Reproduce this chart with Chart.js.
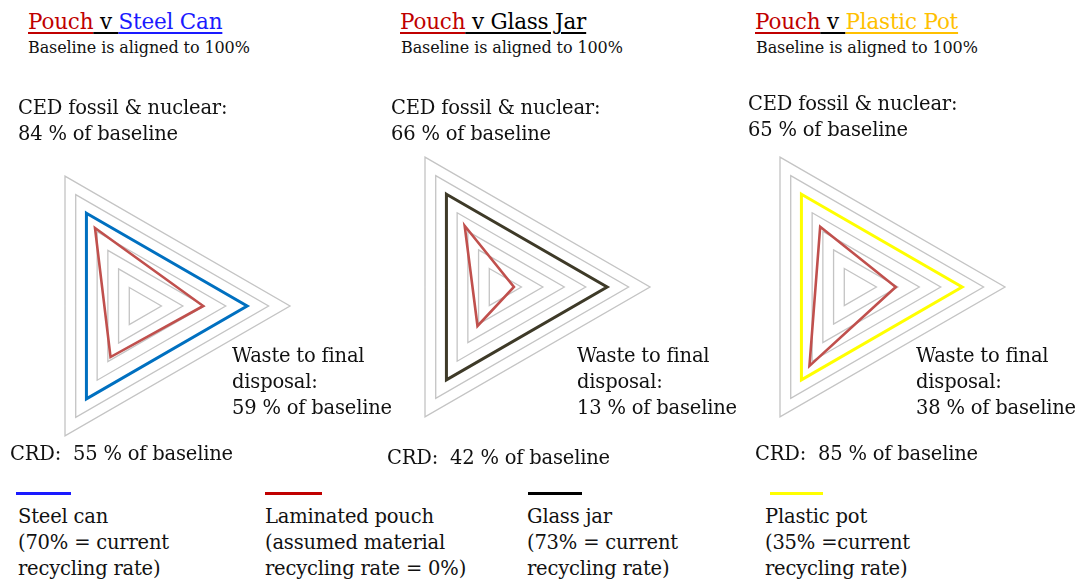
<!DOCTYPE html>
<html>
<head>
<meta charset="utf-8">
<script src="https://cdn.jsdelivr.net/npm/chart.js@4.4.1/dist/chart.umd.min.js"></script>
<style>
    body { margin: 0; background: #fff; }
    #page { position: relative; width: 1078px; height: 586px; overflow: hidden; font-family: 'DejaVu Serif', 'Liberation Serif', serif; color: #111; }
    .radar { position: absolute; width: 320px; height: 320px; }
    .txt { position: absolute; font-size: 19.5px; line-height: 26px; white-space: pre; letter-spacing: -0.2px; }
    .title { position: absolute; font-size: 21.5px; line-height: 26px; white-space: pre; letter-spacing: -0.2px; }
    .title span { text-decoration: underline; text-decoration-thickness: 1.5px; text-underline-offset: 3px; }
    .sub { position: absolute; font-size: 16px; line-height: 20px; white-space: pre; letter-spacing: -0.1px; }
    .key { position: absolute; height: 3px; width: 55px; top: 492px; }
</style>
</head>
<body>
<div id="page">
    <!-- titles -->
    <div class="title" style="left:28px; top:9px;"><span style="color:#c00000">Pouch</span><span style="color:#000"> v </span><span style="color:#1a1aff">Steel Can</span></div>
    <div class="sub" style="left:28px; top:38px;">Baseline is aligned to 100%</div>
    <div class="title" style="left:400px; top:9px;"><span style="color:#c00000">Pouch</span><span style="color:#000"> v Glass Jar</span></div>
    <div class="sub" style="left:401px; top:38px;">Baseline is aligned to 100%</div>
    <div class="title" style="left:755px; top:9px;"><span style="color:#c00000">Pouch</span><span style="color:#000"> v </span><span style="color:#ffc000">Plastic Pot</span></div>
    <div class="sub" style="left:756px; top:38px;">Baseline is aligned to 100%</div>

    <!-- radar canvases -->
    <canvas id="radarSteel" class="radar" width="320" height="320" style="left:-20px; top:146px;"></canvas>
    <canvas id="radarGlass" class="radar" width="320" height="320" style="left:340px; top:127px;"></canvas>
    <canvas id="radarPlastic" class="radar" width="320" height="320" style="left:695px; top:127px;"></canvas>

    <!-- axis labels, filled in by script -->
    <div class="txt" id="cedSteel" style="left:18px; top:95px;"></div>
    <div class="txt" id="wasteSteel" style="left:232px; top:343px;"></div>
    <div class="txt" id="crdSteel" style="left:10px; top:441px;"></div>

    <div class="txt" id="cedGlass" style="left:391px; top:95px;"></div>
    <div class="txt" id="wasteGlass" style="left:577px; top:343px;"></div>
    <div class="txt" id="crdGlass" style="left:387px; top:445px;"></div>

    <div class="txt" id="cedPlastic" style="left:748px; top:91px;"></div>
    <div class="txt" id="wastePlastic" style="left:916px; top:343px;"></div>
    <div class="txt" id="crdPlastic" style="left:755px; top:441px;"></div>

    <!-- legend -->
    <div class="key" style="left:16px; background:#1a1aff;"></div>
    <div class="txt" style="left:18px; top:504px;">Steel can
(70% = current
recycling rate)</div>
    <div class="key" style="left:265px; width:57px; background:#c00000;"></div>
    <div class="txt" style="left:265px; top:504px;">Laminated pouch
(assumed material
recycling rate = 0%)</div>
    <div class="key" style="left:528px; width:54px; background:#000;"></div>
    <div class="txt" style="left:527px; top:504px;">Glass jar
(73% = current
recycling rate)</div>
    <div class="key" style="left:770px; width:53px; background:#ffff00;"></div>
    <div class="txt" style="left:765px; top:504px;">Plastic pot
(35% =current
recycling rate)</div>
</div>

<script>
// ==================== DATA ====================
const axisNames = ['CED fossil & nuclear', 'Waste to final disposal', 'CRD'];
const gridTicks = [0, 20, 40, 60, 80, 100, 120, 140];   // % of baseline, one grey triangle per step

const baselineValues = [100, 100, 100];
const pouchVsSteel = [84, 59, 55];
const pouchVsGlass = [66, 13, 42];
const pouchVsPlastic = [65, 38, 85];

// ==================== RADAR HELPER ====================
function makeRadar(id, pouch, baseColor) {
    const ctx = document.getElementById(id);
    return new Chart(ctx.getContext('2d'), {
        type: 'radar',
        data: {
            labels: axisNames,
            datasets: [{
                label: 'Laminated pouch',
                data: pouch,
                borderColor: '#c0504d',
                borderWidth: 2.6,
                fill: false,
                pointRadius: 0
            }, {
                label: 'Baseline',
                data: baselineValues,
                borderColor: baseColor,
                borderWidth: 3,
                fill: false,
                pointRadius: 0
            }]
        },
        options: {
            responsive: false,
            animation: false,
            devicePixelRatio: 1,
            layout: { padding: 10 },
            elements: { line: { tension: 0, borderJoinStyle: 'miter' } },
            plugins: { legend: { display: false }, tooltip: { enabled: false } },
            scales: {
                r: {
                    min: gridTicks[0],
                    max: gridTicks[gridTicks.length - 1],
                    startAngle: -30,
                    ticks: { display: false, stepSize: gridTicks[1] - gridTicks[0] },
                    angleLines: { display: false },
                    pointLabels: { display: false },
                    grid: { color: '#c4c4c4', lineWidth: 1.3 }
                }
            }
        }
    });
}

makeRadar('radarSteel', pouchVsSteel, '#0070c0');
makeRadar('radarGlass', pouchVsGlass, '#3e3a28');
makeRadar('radarPlastic', pouchVsPlastic, '#ffff00');

// ==================== AXIS LABELS ====================
function fillLabels(suffix, values) {
    document.getElementById('ced' + suffix).textContent = 'CED fossil & nuclear:\n' + values[0] + ' % of baseline';
    document.getElementById('waste' + suffix).textContent = 'Waste to final\ndisposal:\n' + values[1] + ' % of baseline';
    document.getElementById('crd' + suffix).textContent = 'CRD:  ' + values[2] + ' % of baseline';
}
fillLabels('Steel', pouchVsSteel);
fillLabels('Glass', pouchVsGlass);
fillLabels('Plastic', pouchVsPlastic);
</script>
</body>
</html>
